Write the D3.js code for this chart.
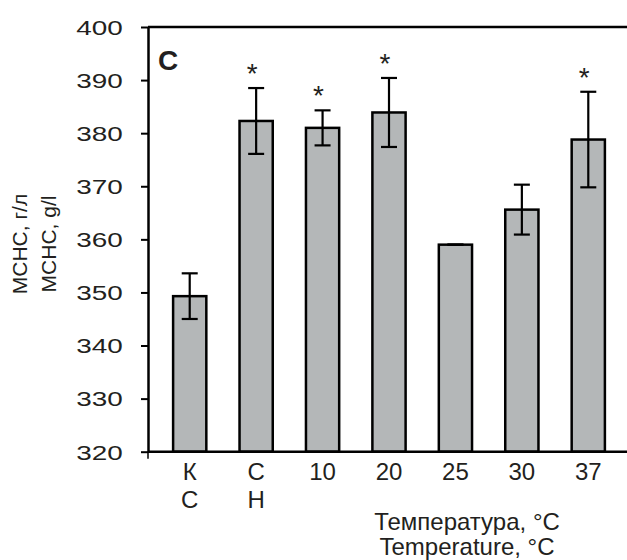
<!DOCTYPE html>
<html>
<head>
<meta charset="utf-8">
<script src="https://cdn.jsdelivr.net/npm/d3@7"></script>
<style>
  body { margin: 0; background: #fff; }
  text { font-family: "Liberation Sans", Arial, sans-serif; fill: #231f20; }
</style>
</head>
<body>
<svg width="627" height="560"></svg>
<script>
const categories = [['К', 'С'], ['С', 'Н'], ['10'], ['20'], ['25'], ['30'], ['37']];
const means = [349.3, 382.3, 381.0, 383.9, 359.0, 365.6, 378.8];
const errors = [4.3, 6.2, 3.3, 6.5, 0, 4.7, 9.0];
const significant = [false, true, true, true, false, false, true];
const yTicks = [320, 330, 340, 350, 360, 370, 380, 390, 400];

const svg = d3.select('svg');
const plotLeft = 148, plotTop = 27, plotBottom = 451.7, plotRight = 627;

const x = d3.scaleBand()
    .domain(d3.range(categories.length))
    .range([156.5, 621.5])
    .paddingInner(0.5)
    .paddingOuter(0.25);

const y = d3.scaleLinear()
    .domain([320, 400])
    .range([plotBottom, plotTop]);

// bars
svg.append('g')
    .selectAll('rect')
    .data(means)
    .enter()
    .append('rect')
    .attr('x', (d, i) => x(i))
    .attr('y', d => y(d))
    .attr('width', x.bandwidth())
    .attr('height', d => y(320) - y(d))
    .style('fill', '#b4b7b8')
    .style('stroke', '#000')
    .style('stroke-width', 2.5);

// error bars
const err = svg.append('g')
    .selectAll('g')
    .data(means)
    .enter()
    .append('g')
    .attr('transform', (d, i) => `translate(${x(i) + x.bandwidth() / 2},0)`)
    .style('stroke', '#000')
    .style('stroke-width', 2.2);

err.append('line')
    .attr('y1', (d, i) => y(d - errors[i]))
    .attr('y2', (d, i) => y(d + errors[i]));
err.append('line')
    .attr('x1', -8).attr('x2', 8)
    .attr('y1', (d, i) => y(d + errors[i]))
    .attr('y2', (d, i) => y(d + errors[i]));
err.append('line')
    .attr('x1', -8).attr('x2', 8)
    .attr('y1', (d, i) => y(d - errors[i]))
    .attr('y2', (d, i) => y(d - errors[i]));

// significance marks
svg.append('g')
    .selectAll('text')
    .data(means.map((d, i) => ({d, i})).filter(o => significant[o.i]))
    .enter()
    .append('text')
    .attr('x', o => x(o.i) + x.bandwidth() / 2 - 4)
    .attr('y', o => y(o.d + errors[o.i]) - 5)
    .attr('text-anchor', 'middle')
    .style('font-size', '28px')
    .text('*');

// y axis
const yAxis = svg.append('g')
    .attr('transform', `translate(${plotLeft},0)`)
    .call(d3.axisLeft(y).tickValues(yTicks).tickSize(7).tickSizeOuter(0));
yAxis.select('.domain').style('stroke-width', 2.5);
yAxis.selectAll('.tick line').style('stroke-width', 2);
yAxis.selectAll('.tick text')
    .attr('x', -19)
    .attr('dy', '0.35em')
    .attr('transform', 'scale(1.33,1)')
    .style('font-size', '21px')
    .style('font-family', '"Liberation Sans", Arial, sans-serif')
    .style('fill', '#231f20');

// frame top and baseline
svg.append('line')
    .attr('x1', plotLeft).attr('x2', plotRight)
    .attr('y1', plotTop).attr('y2', plotTop)
    .style('stroke', '#000').style('stroke-width', 2.5);
svg.append('line')
    .attr('x1', plotLeft).attr('x2', plotRight)
    .attr('y1', plotBottom).attr('y2', plotBottom)
    .style('stroke', '#000').style('stroke-width', 2.5);
svg.append('line')
    .attr('x1', plotLeft).attr('x2', plotLeft)
    .attr('y1', plotBottom).attr('y2', plotBottom + 7)
    .style('stroke', '#000').style('stroke-width', 1.5);

// category labels
const cat = svg.append('g')
    .selectAll('text')
    .data(categories)
    .enter()
    .append('text')
    .attr('text-anchor', 'middle')
    .style('font-size', '24px');
cat.selectAll('tspan')
    .data((d, i) => d.map(t => ({t, i})))
    .enter()
    .append('tspan')
    .attr('x', o => x(o.i) + x.bandwidth() / 2)
    .attr('y', (o, j) => 480 + j * 28)
    .text(o => o.t);

// panel letter
svg.append('text')
    .attr('x', 158)
    .attr('y', 70)
    .style('font-size', '28px')
    .style('font-weight', 'bold')
    .text('C');

// axis titles
const yTitle = svg.append('text')
    .attr('transform', 'translate(27,244) rotate(-90)')
    .attr('text-anchor', 'middle')
    .style('font-size', '21px');
yTitle.append('tspan').attr('x', 0).attr('y', 0).text('MCHC, г/л');
yTitle.append('tspan').attr('x', 0).attr('y', 29).text('MCHC, g/l');

const xTitle = svg.append('text')
    .attr('text-anchor', 'middle')
    .style('font-size', '24px');
xTitle.append('tspan').attr('x', 467).attr('y', 530).text('Температура, °C');
xTitle.append('tspan').attr('x', 467).attr('y', 555).text('Temperature, °C');
</script>
</body>
</html>
